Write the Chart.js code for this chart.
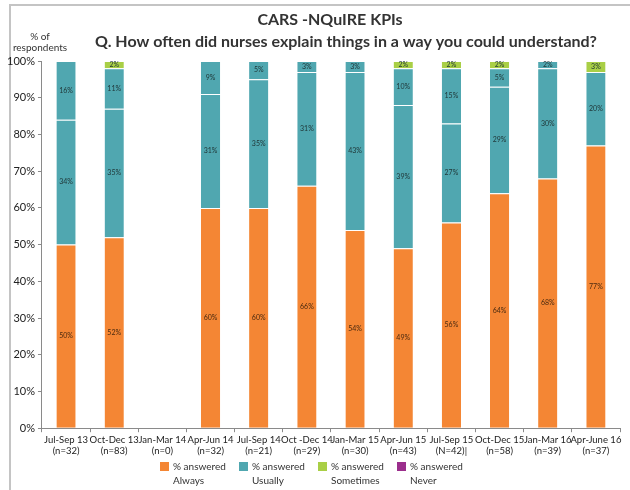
<!DOCTYPE html>
<html>
<head>
<meta charset="utf-8">
<script src="https://cdn.jsdelivr.net/npm/chart.js@4"></script>
<style>
  html, body { margin: 0; padding: 0; background: #fff; }
  #wrap { width: 630px; height: 490px; position: relative; }
</style>
</head>
<body>
<div id="wrap"><canvas id="myChart"></canvas></div>
<script>
const categories = [
    ['Jul-Sep 13', '(n=32)'],
    ['Oct-Dec 13', '(n=83)'],
    ['Jan-Mar 14', '(n=0)'],
    ['Apr-Jun 14', '(n=32)'],
    ['Jul-Sep 14', '(n=21)'],
    ['Oct -Dec 14', '(n=29)'],
    ['Jan-Mar 15', '(n=30)'],
    ['Apr-Jun 15', '(n=43)'],
    ['Jul-Sep 15', '(N=42)|'],
    ['Oct-Dec 15', '(n=58)'],
    ['Jan-Mar 16', '(n=39)'],
    ['Apr-June 16', '(n=37)'],
];

const always    = [50, 52, null, 60, 60, 66, 54, 49, 56, 64, 68, 77];
const usually   = [34, 35, null, 31, 35, 31, 43, 39, 27, 29, 30, 20];
const sometimes = [16, 11, null, 9, 5, 3, 3, 10, 15, 5, 2, 0];
const never     = [0, 2, null, 0, 0, 0, 0, 2, 2, 2, 0, 3];

const yTicks = [0, 10, 20, 30, 40, 50, 60, 70, 80, 90, 100];
const legendNames = ['Always', 'Usually', 'Sometimes', 'Never'];

const ORANGE = '#F48634';
const TEAL = '#50A7B0';
const GREEN = '#A9CF46';
const PURPLE = '#9B2E8C';
const legendColors = [ORANGE, TEAL, GREEN, PURPLE];

const FONT = 'Lato, "Open Sans", sans-serif';

// draws frame, titles, value labels and the legend
const extras = {
    id: 'extras',
    beforeDraw(chart) {
        const c = chart.ctx;
        c.save();
        c.fillStyle = '#fff';
        c.fillRect(0, 0, chart.width, chart.height);
        c.strokeStyle = '#c4c4c4';
        c.lineWidth = 2;
        c.beginPath();
        c.moveTo(10, 490);
        c.lineTo(10, 5);
        c.lineTo(630, 5);
        c.stroke();
        c.restore();
    },
    afterDatasetsDraw(chart) {
        const c = chart.ctx;
        c.save();
        c.font = '7px ' + FONT;
        c.textAlign = 'center';
        c.textBaseline = 'middle';
        chart.data.datasets.forEach((ds, i) => {
            const meta = chart.getDatasetMeta(i);
            meta.data.forEach((bar, j) => {
                const v = ds.data[j];
                if (!v) return;
                c.fillStyle = i === 0 ? '#4a2a10' : '#1f3536';
                c.fillText(v + '%', bar.x, (bar.y + bar.base) / 2);
            });
        });
        c.restore();
    },
    afterDraw(chart) {
        const c = chart.ctx;
        c.save();
        c.fillStyle = '#333';
        c.textAlign = 'center';
        c.textBaseline = 'middle';
        c.font = 'bold 16px ' + FONT;
        c.fillText('CARS -NQuIRE KPIs', 330, 20);
        c.fillText('Q. How often did nurses explain things in a way you could understand?', 346, 42);
        c.font = '10px ' + FONT;
        c.fillText('% of', 40, 37);
        c.fillText('respondents', 40, 48);

        // legend
        c.textAlign = 'left';
        c.font = '10px ' + FONT;
        legendNames.forEach((name, i) => {
            const x = 160 + i * 79;
            c.fillStyle = legendColors[i];
            c.fillRect(x, 462, 9, 9);
            c.fillStyle = '#333';
            c.fillText('% answered', x + 13, 467);
            c.fillText(name, x + 13, 481);
        });
        c.restore();
    }
};

const ctx = document.getElementById('myChart');

new Chart(ctx, {
    type: 'bar',
    data: {
        labels: categories,
        datasets: [
            { label: 'Always', data: always, backgroundColor: ORANGE },
            { label: 'Usually', data: usually, backgroundColor: TEAL },
            { label: 'Sometimes', data: sometimes, backgroundColor: TEAL },
            { label: 'Never', data: never, backgroundColor: GREEN },
        ]
    },
    options: {
        responsive: true,
        maintainAspectRatio: false,
        animation: false,
        devicePixelRatio: 1,
        layout: {
            padding: { top: 61, left: 4, right: 10, bottom: 31 }
        },
        datasets: {
            bar: {
                categoryPercentage: 1,
                barPercentage: 0.4,
                borderColor: 'rgba(255,255,255,0.55)',
                borderWidth: { top: 1, left: 0, right: 0, bottom: 0 },
                borderSkipped: false,
            }
        },
        plugins: {
            legend: { display: false },
            title: { display: false },
            tooltip: { enabled: false },
        },
        scales: {
            x: {
                stacked: true,
                grid: {
                    offset: true,
                    drawOnChartArea: false,
                    tickLength: 4,
                    color: '#8a8a8a',
                },
                border: { color: '#8a8a8a', width: 1 },
                ticks: {
                    color: '#222',
                    font: { family: FONT, size: 9.5 },
                    maxRotation: 0,
                    autoSkip: false,
                    padding: 2,
                }
            },
            y: {
                stacked: true,
                min: 0,
                max: 100,
                afterBuildTicks(axis) {
                    axis.ticks = yTicks.map(v => ({ value: v }));
                },
                grid: {
                    drawOnChartArea: false,
                    tickLength: 4,
                    color: '#8a8a8a',
                },
                border: { color: '#8a8a8a', width: 1 },
                ticks: {
                    color: '#222',
                    font: { family: FONT, size: 11 },
                    padding: 3,
                    callback: function (value) {
                        return value + '%';
                    }
                }
            }
        }
    },
    plugins: [extras]
});
</script>
</body>
</html>
